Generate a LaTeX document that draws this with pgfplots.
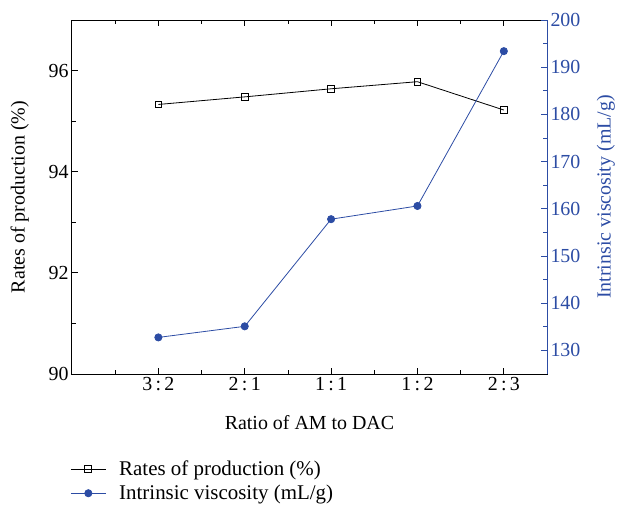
\documentclass[border=0pt]{standalone}
\usepackage{fontspec}
\setmainfont{Liberation Serif}
\usepackage{pgfplots}
\pgfplotsset{compat=1.18}
\definecolor{vblue}{RGB}{44,76,164}
\begin{document}
\begin{tikzpicture}[font=\fontsize{20}{23}\selectfont]
\pgfplotsset{
  every axis/.append style={
    scale only axis, width=475bp, height=354bp,
    xmin=0, xmax=5.5,
    /pgf/number format/assume math mode=true,
    tick align=inside,
    major tick length=6bp, minor tick length=4bp,
    every tick/.style={line width=0.8bp},
    axis line style={line width=1bp},
  }
}
\begin{axis}[
  ymin=90, ymax=97,
  ytick={90,92,94,96}, minor ytick={91,93,95},
  xtick={1,2,3,4,5}, xticklabels={3\,:\,2,2\,:\,1,1\,:\,1,1\,:\,2,2\,:\,3},
  minor xtick={0.5,1.5,2.5,3.5,4.5},
  xtick pos=both, ytick pos=left,
  every tick/.append style={black},
  xlabel={Ratio of AM to DAC},
  ylabel={Rates of production (\%)},
  xlabel style={at={(axis description cs:0.5,-0.136)}, anchor=center},
  ylabel style={at={(axis description cs:-0.11,0.5)}, anchor=center},
  legend style={draw=none, fill=none, at={(axis description cs:-0.01,-0.234)}, anchor=north west, row sep=4bp, font=\fontsize{21}{24}\selectfont},
  legend cell align=left,
  legend image code/.code={\draw[mark repeat=2,mark phase=2,#1] plot coordinates {(0bp,0bp) (17.5bp,0bp) (35bp,0bp)}; \path (46bp,0bp);},
]
\addplot[black, line width=0.8bp, mark=square, mark size=3.4bp, mark options={fill=white, line width=0.9bp}]
  coordinates {(1,95.33) (2,95.48) (3,95.64) (4,95.78) (5,95.22)};
\addlegendentry{Rates of production (\%)}
\addlegendimage{vblue, line width=0.8bp, mark=*, mark size=3.6bp}
\addlegendentry{Intrinsic viscosity (mL/g)}
\coordinate (SW) at (rel axis cs:0,0);
\end{axis}
\begin{axis}[
  ymin=125, ymax=200,
  ytick={130,140,...,200}, minor ytick={135,145,...,195},
  axis y line*=right, axis x line=none,
  y axis line style={vblue, line width=1bp},
  every tick/.append style={vblue},
  yticklabel style={text=vblue},
  ylabel={Intrinsic viscosity (mL/g)},
  ylabel style={text=vblue, at={(axis description cs:1.124,0.5)}, anchor=center, rotate=0},
]
\addplot[vblue, line width=0.8bp, mark=*, mark size=3.6bp]
  coordinates {(1,132.75) (2,135.1) (3,157.8) (4,160.6) (5,193.4)};
\end{axis}
\pgfresetboundingbox
\path[use as bounding box] ([shift={(-72bp,-134bp)}]SW) rectangle ([shift={(545bp,374bp)}]SW);
\end{tikzpicture}
\end{document}
